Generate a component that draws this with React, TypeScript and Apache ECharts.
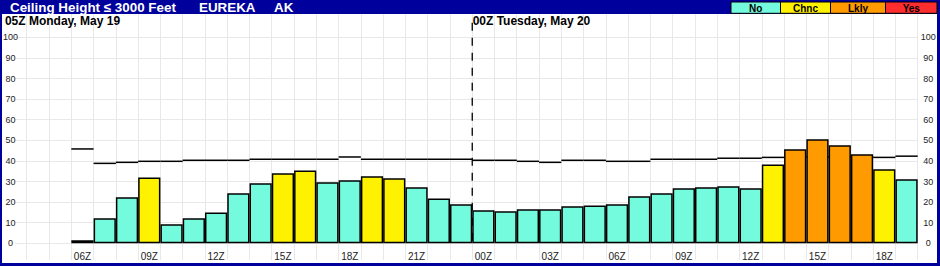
import React, { useEffect, useRef } from "react";
import * as echarts from "echarts";

// ---------- data ----------
const hourLabels = [
  "03Z", "04Z", "05Z", "06Z", "07Z", "08Z", "09Z", "10Z", "11Z", "12Z", "13Z",
  "14Z", "15Z", "16Z", "17Z", "18Z", "19Z", "20Z", "21Z", "22Z", "23Z",
  "00Z", "01Z", "02Z", "03Z", "04Z", "05Z", "06Z", "07Z", "08Z", "09Z",
  "10Z", "11Z", "12Z", "13Z", "14Z", "15Z", "16Z", "17Z", "18Z", "19Z",
];

const ceilingProb = [
  null, null, null, 1.5, 12.1, 22.3, 32.0, 9.2, 12.1, 15.0, 24.3,
  29.1, 34.0, 35.4, 29.6, 30.6, 32.5, 31.6, 27.2, 21.8, 18.9,
  16.0, 15.5, 16.5, 16.5, 18.0, 18.4, 18.9, 22.8, 24.3, 26.7,
  27.2, 27.7, 26.7, 38.3, 45.6, 50.5, 47.6, 43.2, 35.9, 31.1,
];

const riskLevel = [
  "", "", "", "No", "No", "No", "Chnc", "No", "No", "No", "No",
  "No", "Chnc", "Chnc", "No", "No", "Chnc", "Chnc", "No", "No", "No",
  "No", "No", "No", "No", "No", "No", "No", "No", "No", "No",
  "No", "No", "No", "Chnc", "Lkly", "Lkly", "Lkly", "Lkly", "Chnc", "No",
];

const climoLine = [
  null, null, null, 45.8, 38.8, 39.3, 39.8, 39.8, 40.3, 40.3, 40.3,
  40.8, 40.8, 40.8, 40.8, 41.9, 40.8, 40.8, 40.8, 40.8, 40.8,
  40.3, 40.3, 39.8, 39.3, 40.3, 40.3, 39.8, 39.8, 40.8, 40.8,
  40.8, 41.3, 41.3, 41.7, 42.0, 42.0, 42.0, 42.0, 41.7, 42.3,
];

const dayStartIndex = [0, 21];
const dayLabels = ["05Z Monday, May 19", "00Z Tuesday, May 20"];
const legendLabels = ["No", "Chnc", "Lkly", "Yes"];
const titleParts = ["Ceiling Height \u2264 3000 Feet", "EUREKA", "AK"];

// ---------- styles ----------
const FONT = "'Liberation Sans', Arial, sans-serif";
const BLUE = "#00009c";
const GRID = "#e8e8e8";
const riskColor: Record<string, string> = {
  No: "#74fadd",
  Chnc: "#fff200",
  Lkly: "#ff9a00",
  Yes: "#ff2e2e",
};
const legendEdges = [731, 780.5, 830.5, 885.5, 937];
const titleX = [10, 199, 274];

export default function App() {
  const ref = useRef<HTMLDivElement>(null);

  useEffect(() => {
    if (!ref.current) return;
    const chart = echarts.init(ref.current, undefined, { renderer: "svg" });

    const barData = ceilingProb.map((v, i) =>
      v == null ? null : { value: v, itemStyle: { color: riskColor[riskLevel[i]] } }
    );
    const stepData = climoLine
      .map((v, i) => (v == null ? null : [i, v]))
      .filter((d) => d != null);
    const dayData = dayStartIndex.map((idx, k) => [idx, 0, k]);

    const legendGraphics: any[] = [];
    legendLabels.forEach((lab, k) => {
      const x0 = legendEdges[k];
      const x1 = legendEdges[k + 1];
      legendGraphics.push({
        type: "rect",
        z: 101,
        shape: { x: x0, y: 2, width: x1 - x0, height: 11.3 },
        style: { fill: riskColor[lab], stroke: "#000", lineWidth: 1 },
      });
      legendGraphics.push({
        type: "text",
        z: 102,
        x: (x0 + x1) / 2,
        y: 8,
        style: {
          text: lab,
          fill: "#000",
          font: `bold 10px ${FONT}`,
          textAlign: "center",
          textVerticalAlign: "middle",
        },
      });
    });

    const option: any = {
      animation: false,
      backgroundColor: "#fff",
      grid: [
        { left: 4.4, right: 22.3, top: 14, bottom: 6 },
        { left: 15, right: 22.3, top: 37.3, bottom: 22.7 },
        { left: 4.4, right: 22.3, top: 37.3, bottom: 22.7 },
      ],
      xAxis: [
        {
          gridIndex: 0,
          type: "value",
          min: 0,
          max: 41,
          interval: 1,
          axisLine: { show: false },
          axisTick: { show: false },
          axisLabel: { show: false },
          splitLine: { show: true, showMinLine: false, lineStyle: { color: GRID, width: 1 } },
        },
        { gridIndex: 1, type: "value", min: 0, max: 1, show: false },
        {
          gridIndex: 2,
          type: "category",
          data: hourLabels,
          boundaryGap: true,
          axisLine: { show: false },
          axisTick: { show: false },
          splitLine: { show: false },
          axisLabel: {
            interval: (i: number) => i >= 3 && i % 3 === 0,
            fontSize: 10,
            fontFamily: FONT,
            color: "#222",
            margin: 8,
          },
        },
      ],
      yAxis: [
        { gridIndex: 0, type: "value", min: 0, max: 1, show: false },
        {
          gridIndex: 1,
          type: "value",
          min: 0,
          max: 100,
          interval: 10,
          axisLine: { show: false },
          axisTick: { show: false },
          axisLabel: { show: false },
          splitLine: { show: true, lineStyle: { color: GRID, width: 1 } },
        },
        {
          gridIndex: 2,
          type: "value",
          min: 0,
          max: 100,
          interval: 10,
          position: "left",
          axisLine: { show: false },
          axisTick: { show: false },
          splitLine: { show: false },
          axisLabel: {
            inside: true,
            margin: 6,
            align: "center",
            fontSize: 9,
            fontFamily: FONT,
            color: "#222",
          },
        },
        {
          gridIndex: 2,
          type: "value",
          min: 0,
          max: 100,
          interval: 10,
          position: "right",
          axisLine: { show: false },
          axisTick: { show: false },
          splitLine: { show: false },
          axisLabel: {
            margin: 10.5,
            align: "center",
            fontSize: 9,
            fontFamily: FONT,
            color: "#222",
          },
        },
      ],
      series: [
        {
          type: "bar",
          xAxisIndex: 2,
          yAxisIndex: 2,
          data: barData,
          barWidth: "100%",
          barCategoryGap: "0%",
          itemStyle: { borderColor: "#000", borderWidth: 1.5 },
        },
        {
          type: "custom",
          xAxisIndex: 2,
          yAxisIndex: 2,
          data: stepData,
          renderItem: (params: any, api: any) => {
            const c = api.coord([api.value(0), api.value(1)]);
            const w = api.size([1, 0])[0];
            return {
              type: "line",
              shape: { x1: c[0] - w / 2, y1: c[1], x2: c[0] + w / 2, y2: c[1] },
              style: { stroke: "#000", lineWidth: 1.5 },
            };
          },
        },
        {
          type: "custom",
          xAxisIndex: 2,
          yAxisIndex: 2,
          data: dayData,
          renderItem: (params: any, api: any) => {
            const idx = api.value(0);
            const k = api.value(2);
            const c = api.coord([idx, 0]);
            const w = api.size([1, 0])[0];
            const x = c[0] - w / 2;
            const top = params.coordSys.y;
            const children: any[] = [
              {
                type: "text",
                x: x + 0.4,
                y: top - 16.5,
                style: {
                  text: dayLabels[k],
                  fill: "#000",
                  font: `bold 12px ${FONT}`,
                  textAlign: "left",
                  textVerticalAlign: "middle",
                },
              },
            ];
            if (idx > 0) {
              children.push({
                type: "line",
                shape: { x1: x, y1: top - 14.5, x2: x, y2: c[1] },
                style: { stroke: "#000", lineWidth: 1.3, lineDash: [8, 7] },
              });
            }
            return { type: "group", children };
          },
        },
      ],
      graphic: [
        { type: "rect", z: 100, shape: { x: 0, y: 0, width: 940, height: 14 }, style: { fill: BLUE } },
        { type: "rect", z: 100, shape: { x: 0, y: 0, width: 2, height: 266 }, style: { fill: BLUE } },
        { type: "rect", z: 100, shape: { x: 937, y: 0, width: 3, height: 266 }, style: { fill: BLUE } },
        { type: "rect", z: 100, shape: { x: 0, y: 263, width: 940, height: 3 }, style: { fill: BLUE } },
        ...titleParts.map((t, k) => ({
          type: "text",
          z: 101,
          x: titleX[k],
          y: 7,
          style: {
            text: t,
            fill: "#fff",
            font: `bold 13.4px ${FONT}`,
            textAlign: "left",
            textVerticalAlign: "middle",
          },
        })),
        ...legendGraphics,
      ],
    };

    chart.setOption(option);
    return () => chart.dispose();
  }, []);

  return (
    <div
      ref={ref}
      style={{ position: "absolute", left: 0, top: 0, width: 940, height: 266 }}
    />
  );
}
